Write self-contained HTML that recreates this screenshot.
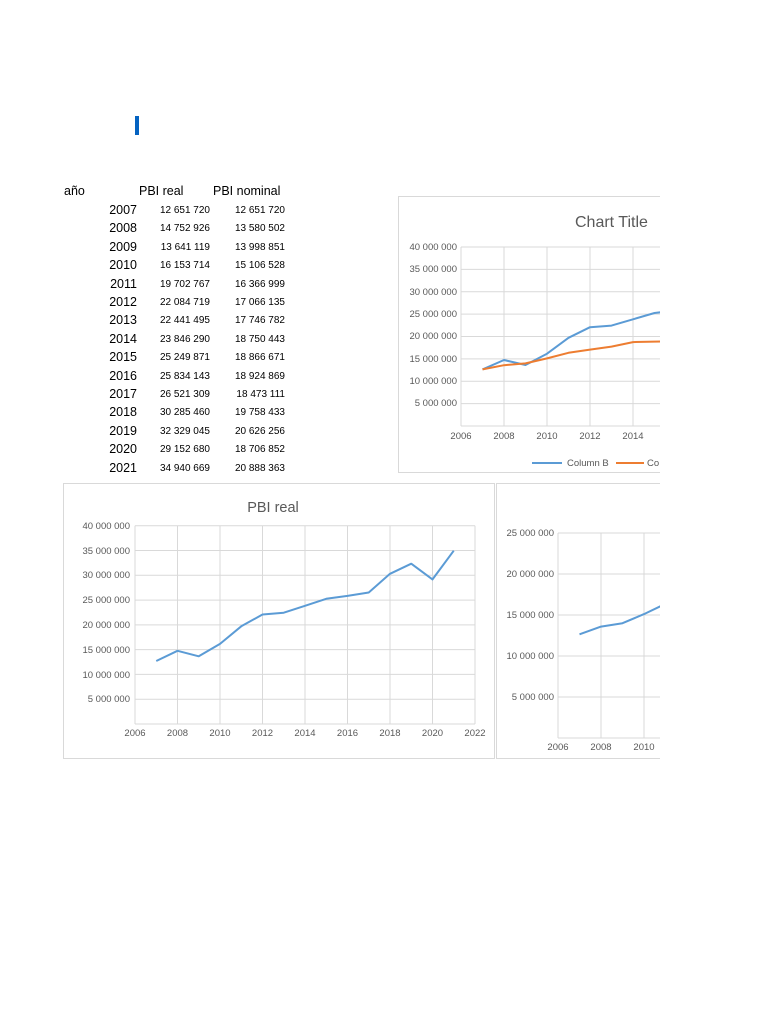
<!DOCTYPE html>
<html><head><meta charset="utf-8"><style>
html,body{margin:0;padding:0;background:#fff;}
svg{display:block;font-family:"Liberation Sans",sans-serif;}
.ax{font-size:9.5px;fill:#595959;}
.tb{font-size:10px;fill:#000;}
.yr{font-size:12.5px;fill:#000;}
.g{stroke:#d9d9d9;stroke-width:1;fill:none;}
.b{stroke:#5b9bd5;stroke-width:2;fill:none;stroke-linejoin:round;}
.o{stroke:#ed7d31;stroke-width:2;fill:none;stroke-linejoin:round;}
</style></head><body>
<svg width="768" height="1024" viewBox="0 0 768 1024">
<rect x="135" y="116" width="4" height="19" fill="#0563c1"/>
<!-- table -->
<text x="64" y="195" style="font-size:12.5px">año</text>
<text x="139" y="195" style="font-size:12.5px">PBI real</text>
<text x="213" y="195" style="font-size:12.5px">PBI nominal</text>
<g class="yr" text-anchor="end">
<text x="137" y="214">2007</text><text x="137" y="232">2008</text><text x="137" y="251">2009</text><text x="137" y="269">2010</text><text x="137" y="288">2011</text><text x="137" y="306">2012</text><text x="137" y="324">2013</text><text x="137" y="343">2014</text><text x="137" y="361">2015</text><text x="137" y="380">2016</text><text x="137" y="398">2017</text><text x="137" y="416">2018</text><text x="137" y="435">2019</text><text x="137" y="453">2020</text><text x="137" y="472">2021</text>
</g>
<g class="tb" text-anchor="end">
<text x="210" y="213">12 651 720</text><text x="210" y="231">14 752 926</text><text x="210" y="250">13 641 119</text><text x="210" y="268">16 153 714</text><text x="210" y="287">19 702 767</text><text x="210" y="305">22 084 719</text><text x="210" y="323">22 441 495</text><text x="210" y="342">23 846 290</text><text x="210" y="360">25 249 871</text><text x="210" y="379">25 834 143</text><text x="210" y="397">26 521 309</text><text x="210" y="415">30 285 460</text><text x="210" y="434">32 329 045</text><text x="210" y="452">29 152 680</text><text x="210" y="471">34 940 669</text>
<text x="285" y="213">12 651 720</text><text x="285" y="231">13 580 502</text><text x="285" y="250">13 998 851</text><text x="285" y="268">15 106 528</text><text x="285" y="287">16 366 999</text><text x="285" y="305">17 066 135</text><text x="285" y="323">17 746 782</text><text x="285" y="342">18 750 443</text><text x="285" y="360">18 866 671</text><text x="285" y="379">18 924 869</text><text x="285" y="397">18 473 111</text><text x="285" y="415">19 758 433</text><text x="285" y="434">20 626 256</text><text x="285" y="452">18 706 852</text><text x="285" y="471">20 888 363</text>
</g>

<!-- chart 1 -->
<rect x="398.5" y="196.5" width="300" height="276" fill="#fff" stroke="#d9d9d9"/>
<text x="575" y="227" style="font-size:16px;fill:#595959">Chart Title</text>
<g class="g">
<line x1="461" y1="247" x2="660" y2="247"/><line x1="461" y1="269.4" x2="660" y2="269.4"/><line x1="461" y1="291.8" x2="660" y2="291.8"/><line x1="461" y1="314.1" x2="660" y2="314.1"/><line x1="461" y1="336.5" x2="660" y2="336.5"/><line x1="461" y1="358.9" x2="660" y2="358.9"/><line x1="461" y1="381.3" x2="660" y2="381.3"/><line x1="461" y1="403.6" x2="660" y2="403.6"/><line x1="461" y1="426" x2="660" y2="426"/>
<line x1="461" y1="247" x2="461" y2="426"/><line x1="504" y1="247" x2="504" y2="426"/><line x1="547" y1="247" x2="547" y2="426"/><line x1="590" y1="247" x2="590" y2="426"/><line x1="633" y1="247" x2="633" y2="426"/>
</g>
<g class="ax" text-anchor="end">
<text x="457" y="250">40 000 000</text><text x="457" y="272">35 000 000</text><text x="457" y="295">30 000 000</text><text x="457" y="317">25 000 000</text><text x="457" y="339">20 000 000</text><text x="457" y="362">15 000 000</text><text x="457" y="384">10 000 000</text><text x="457" y="406">5 000 000</text>
</g>
<g class="ax" text-anchor="middle">
<text x="461" y="439">2006</text><text x="504" y="439">2008</text><text x="547" y="439">2010</text><text x="590" y="439">2012</text><text x="633" y="439">2014</text>
</g>
<polyline class="b" points="482.5,369.4 504,360 525.5,365 547,353.7 568.5,337.8 590,327.2 611.5,325.6 633,319.3 654.5,313 676,310.4"/>
<polyline class="o" points="482.5,369.4 504,365.2 525.5,363.4 547,358.4 568.5,352.8 590,349.6 611.5,346.6 633,342.1 654.5,341.6 676,341.3"/>
<line x1="532" y1="463" x2="562" y2="463" class="b"/>
<text x="567" y="466" class="ax">Column B</text>
<line x1="616" y1="463" x2="644" y2="463" class="o"/>
<text x="647" y="466" class="ax">Co</text>

<!-- chart 2 -->
<rect x="63.5" y="483.5" width="431" height="275" fill="#fff" stroke="#d9d9d9"/>
<text x="273" y="512" text-anchor="middle" style="font-size:14.5px;fill:#595959">PBI real</text>
<g class="g">
<line x1="135" y1="525.7" x2="475" y2="525.7"/><line x1="135" y1="550.5" x2="475" y2="550.5"/><line x1="135" y1="575.3" x2="475" y2="575.3"/><line x1="135" y1="600.1" x2="475" y2="600.1"/><line x1="135" y1="624.9" x2="475" y2="624.9"/><line x1="135" y1="649.6" x2="475" y2="649.6"/><line x1="135" y1="674.4" x2="475" y2="674.4"/><line x1="135" y1="699.2" x2="475" y2="699.2"/><line x1="135" y1="724" x2="475" y2="724"/>
<line x1="135" y1="525.7" x2="135" y2="724"/><line x1="177.5" y1="525.7" x2="177.5" y2="724"/><line x1="220" y1="525.7" x2="220" y2="724"/><line x1="262.5" y1="525.7" x2="262.5" y2="724"/><line x1="305" y1="525.7" x2="305" y2="724"/><line x1="347.5" y1="525.7" x2="347.5" y2="724"/><line x1="390" y1="525.7" x2="390" y2="724"/><line x1="432.5" y1="525.7" x2="432.5" y2="724"/><line x1="475" y1="525.7" x2="475" y2="724"/>
</g>
<g class="ax" text-anchor="end">
<text x="130" y="529">40 000 000</text><text x="130" y="554">35 000 000</text><text x="130" y="578">30 000 000</text><text x="130" y="603">25 000 000</text><text x="130" y="628">20 000 000</text><text x="130" y="653">15 000 000</text><text x="130" y="678">10 000 000</text><text x="130" y="702">5 000 000</text>
</g>
<g class="ax" text-anchor="middle">
<text x="135" y="736">2006</text><text x="177.5" y="736">2008</text><text x="220" y="736">2010</text><text x="262.5" y="736">2012</text><text x="305" y="736">2014</text><text x="347.5" y="736">2016</text><text x="390" y="736">2018</text><text x="432.5" y="736">2020</text><text x="475" y="736">2022</text>
</g>
<polyline class="b" points="156.25,661 177.5,650.8 198.75,656.3 220,643.9 241.25,626.3 262.5,614.5 283.75,612.7 305,605.8 326.25,598.8 347.5,595.9 368.75,592.5 390,573.8 411.25,563.7 432.5,579.4 453.75,550.7"/>

<!-- chart 3 -->
<rect x="496.5" y="483.5" width="300" height="275" fill="#fff" stroke="#d9d9d9"/>
<g class="g">
<line x1="558" y1="533" x2="660" y2="533"/><line x1="558" y1="574" x2="660" y2="574"/><line x1="558" y1="615" x2="660" y2="615"/><line x1="558" y1="656" x2="660" y2="656"/><line x1="558" y1="697" x2="660" y2="697"/><line x1="558" y1="738" x2="660" y2="738"/>
<line x1="558" y1="533" x2="558" y2="738"/><line x1="601" y1="533" x2="601" y2="738"/><line x1="644" y1="533" x2="644" y2="738"/>
</g>
<g class="ax" text-anchor="end">
<text x="554" y="536">25 000 000</text><text x="554" y="577">20 000 000</text><text x="554" y="618">15 000 000</text><text x="554" y="659">10 000 000</text><text x="554" y="700">5 000 000</text>
</g>
<g class="ax" text-anchor="middle">
<text x="558" y="750">2006</text><text x="601" y="750">2008</text><text x="644" y="750">2010</text>
</g>
<polyline class="b" points="579.5,634.3 601,626.6 622.5,623.2 644,614.1 665.5,603.8"/>

<rect x="660" y="0" width="108" height="1024" fill="#fff"/>
</svg>
</body></html>
